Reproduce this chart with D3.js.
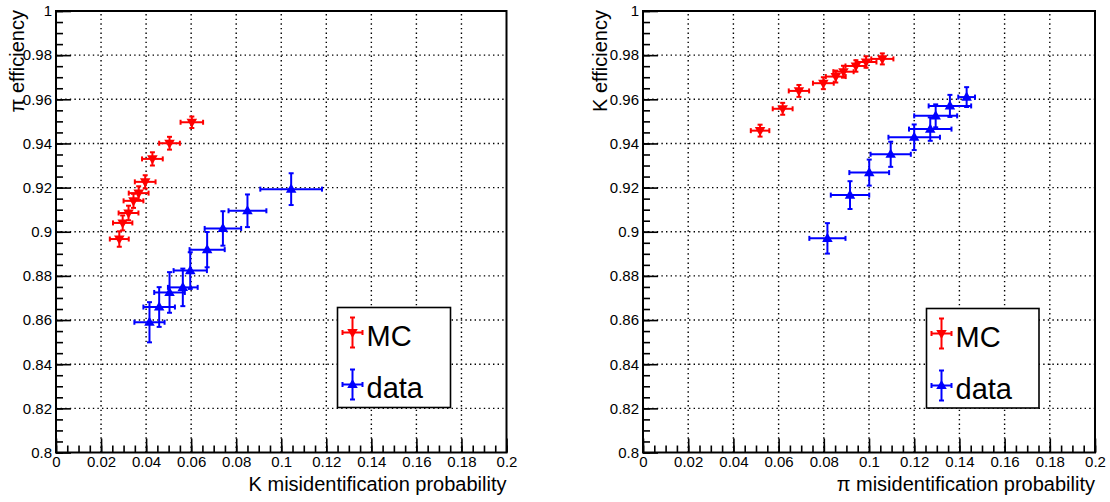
<!DOCTYPE html>
<html>
<head>
<meta charset="utf-8">
<script src="https://cdn.jsdelivr.net/npm/d3@7"></script>
<style>
  html, body { margin: 0; padding: 0; background: #fff; }
  svg { display: block; font-family: "Liberation Sans", Arial, Helvetica, sans-serif; }
</style>
</head>
<body>
<svg id="chart" width="1110" height="502"></svg>
<script>
// ---------- Data ----------
// Left panel: pi efficiency vs K misidentification probability
const leftMcX   = [0.0603, 0.0504, 0.0428, 0.0396, 0.0367, 0.0344, 0.0322, 0.0296, 0.0281];
const leftMcY   = [0.9496, 0.9401, 0.9330, 0.9226, 0.9175, 0.9140, 0.9085, 0.9040, 0.8967];
const leftMcEx  = [0.0050, 0.0046, 0.0046, 0.0046, 0.0044, 0.0044, 0.0044, 0.0043, 0.0042];
const leftMcEy  = [0.0026, 0.0029, 0.0030, 0.0030, 0.0031, 0.0032, 0.0033, 0.0034, 0.0035];

const leftDataX  = [0.0415, 0.0458, 0.0504, 0.0563, 0.0596, 0.0671, 0.0741, 0.0850, 0.1044];
const leftDataY  = [0.8590, 0.8659, 0.8725, 0.8748, 0.8824, 0.8919, 0.9015, 0.9095, 0.9193];
const leftDataEx = [0.0067, 0.0070, 0.0068, 0.0066, 0.0074, 0.0078, 0.0081, 0.0084, 0.0137];
const leftDataEy = [0.0091, 0.0090, 0.0092, 0.0085, 0.0083, 0.0080, 0.0078, 0.0074, 0.0072];

// Right panel: K efficiency vs pi misidentification probability
const rightMcX   = [0.0518, 0.0618, 0.0690, 0.0798, 0.0853, 0.0887, 0.0942, 0.0987, 0.1059];
const rightMcY   = [0.9458, 0.9557, 0.9638, 0.9673, 0.9703, 0.9725, 0.9751, 0.9769, 0.9783];
const rightMcEx  = [0.0041, 0.0044, 0.0045, 0.0046, 0.0044, 0.0045, 0.0046, 0.0046, 0.0049];
const rightMcEy  = [0.0027, 0.0027, 0.0027, 0.0027, 0.0027, 0.0027, 0.0026, 0.0026, 0.0025];

const rightDataX  = [0.0816, 0.0916, 0.1001, 0.1096, 0.1200, 0.1271, 0.1295, 0.1358, 0.1432];
const rightDataY  = [0.8970, 0.9166, 0.9268, 0.9351, 0.9428, 0.9465, 0.9525, 0.9570, 0.9610];
const rightDataEx = [0.0080, 0.0085, 0.0088, 0.0089, 0.0114, 0.0094, 0.0095, 0.0094, 0.0037];
const rightDataEy = [0.0069, 0.0063, 0.0059, 0.0057, 0.0058, 0.0053, 0.0052, 0.0050, 0.0045];

const xTicks = [0, 0.02, 0.04, 0.06, 0.08, 0.1, 0.12, 0.14, 0.16, 0.18, 0.2];
const yTicks = [0.8, 0.82, 0.84, 0.86, 0.88, 0.9, 0.92, 0.94, 0.96, 0.98, 1];
const xTickLabels = ["0", "0.02", "0.04", "0.06", "0.08", "0.1", "0.12", "0.14", "0.16", "0.18", "0.2"];
const yTickLabels = ["0.8", "0.82", "0.84", "0.86", "0.88", "0.9", "0.92", "0.94", "0.96", "0.98", "1"];
const legendLabels = ["MC", "data"];

const MC_COLOR = "#ff0000";
const DATA_COLOR = "#0000ff";

const svg = d3.select("#chart");

function panel(cfg) {
  const x = d3.scaleLinear().domain([0, 0.2]).range([cfg.x0, cfg.x1]);
  const y = d3.scaleLinear().domain([0.8, 1]).range([cfg.y1, cfg.y0]);
  const g = svg.append("g");

  // grid (dotted)
  const grid = g.append("g").attr("stroke", "#000").attr("stroke-width", 1.4)
    .attr("stroke-dasharray", "1.4,3.2").attr("fill", "none");
  xTicks.slice(1, -1).forEach(t => {
    grid.append("line").attr("x1", x(t)).attr("x2", x(t)).attr("y1", y(0.8)).attr("y2", y(1));
  });
  yTicks.slice(1, -1).forEach(t => {
    grid.append("line").attr("x1", x(0)).attr("x2", x(0.2)).attr("y1", y(t)).attr("y2", y(t));
  });

  // axes using d3 axis generators with inner ticks
  const xMinor = d3.range(0, 0.2001, 0.005);
  const yMinor = d3.range(0.8, 1.0001, 0.005);

  const xAxisMinor = d3.axisBottom(x).tickValues(xMinor).tickSize(-7).tickFormat("");
  const xAxisMajor = d3.axisBottom(x).tickValues(xTicks).tickSize(-14).tickPadding(4)
    .tickFormat((d, i) => xTickLabels[i]);
  const yAxisMinor = d3.axisLeft(y).tickValues(yMinor).tickSize(-7).tickFormat("");
  const yAxisMajor = d3.axisLeft(y).tickValues(yTicks).tickSize(-15).tickPadding(4)
    .tickFormat((d, i) => yTickLabels[i]);

  const styleAxis = sel => {
    sel.select(".domain").remove();
    sel.selectAll("line").attr("stroke", "#000").attr("stroke-width", 1.6);
    sel.selectAll("text").attr("fill", "#000").attr("font-size", 15)
      .attr("font-family", "'Liberation Sans', Arial, sans-serif");
  };
  g.append("g").attr("transform", `translate(0,${cfg.y1})`).call(xAxisMinor).call(styleAxis);
  g.append("g").attr("transform", `translate(0,${cfg.y1})`).call(xAxisMajor).call(styleAxis);
  g.append("g").attr("transform", `translate(${cfg.x0},0)`).call(yAxisMinor).call(styleAxis);
  g.append("g").attr("transform", `translate(${cfg.x0},0)`).call(yAxisMajor).call(styleAxis);

  // frame
  g.append("rect").attr("x", cfg.x0).attr("y", cfg.y0)
    .attr("width", cfg.x1 - cfg.x0).attr("height", cfg.y1 - cfg.y0)
    .attr("fill", "none").attr("stroke", "#000").attr("stroke-width", 2);

  // axis titles
  g.append("text").attr("x", cfg.x1).attr("y", 491).attr("text-anchor", "end")
    .attr("font-size", 20).attr("fill", "#000").text(cfg.xTitle);
  g.append("text").attr("transform", `translate(${cfg.yTitleX},${cfg.y0 - 1}) rotate(-90)`)
    .attr("text-anchor", "end").attr("font-size", 20).attr("fill", "#000").text(cfg.yTitle);

  // series
  const drawSeries = (xs, ys, exs, eys, color, down) => {
    const sg = g.append("g").attr("stroke", color).attr("fill", color);
    xs.forEach((xv, i) => {
      const cx = x(xv), cy = y(ys[i]);
      const xl = x(xv - exs[i]), xr = x(xv + exs[i]);
      const yt = y(ys[i] + eys[i]), yb = y(ys[i] - eys[i]);
      const p = sg.append("g").attr("stroke-width", 2);
      p.append("line").attr("x1", xl).attr("x2", xr).attr("y1", cy).attr("y2", cy);
      p.append("line").attr("x1", cx).attr("x2", cx).attr("y1", yt).attr("y2", yb);
      p.append("line").attr("x1", xl).attr("x2", xl).attr("y1", cy - 2.5).attr("y2", cy + 2.5);
      p.append("line").attr("x1", xr).attr("x2", xr).attr("y1", cy - 2.5).attr("y2", cy + 2.5);
      p.append("line").attr("x1", cx - 2.5).attr("x2", cx + 2.5).attr("y1", yt).attr("y2", yt);
      p.append("line").attr("x1", cx - 2.5).attr("x2", cx + 2.5).attr("y1", yb).attr("y2", yb);
      p.append("path")
        .attr("d", d3.symbol().type(d3.symbolTriangle).size(48)())
        .attr("stroke", "none")
        .attr("transform", `translate(${cx},${cy + (down ? -0.5 : 0.5)}) rotate(${down ? 180 : 0})`);
    });
  };
  drawSeries(cfg.mc[0], cfg.mc[1], cfg.mc[2], cfg.mc[3], MC_COLOR, true);
  drawSeries(cfg.data[0], cfg.data[1], cfg.data[2], cfg.data[3], DATA_COLOR, false);

  // legend
  const L = cfg.legend;
  g.append("rect").attr("x", L.x).attr("y", L.y).attr("width", L.w).attr("height", L.h)
    .attr("fill", "#fff").attr("stroke", "#000").attr("stroke-width", 1.6);
  const rows = [{ c: MC_COLOR, down: true, dy: 25 }, { c: DATA_COLOR, down: false, dy: 77 }];
  rows.forEach((r, i) => {
    const mx = L.x + 15, my = L.y + r.dy;
    const lg = g.append("g").attr("stroke", r.c).attr("fill", r.c).attr("stroke-width", 2);
    lg.append("line").attr("x1", mx - 10).attr("x2", mx + 10).attr("y1", my).attr("y2", my);
    lg.append("line").attr("x1", mx).attr("x2", mx).attr("y1", my - 15).attr("y2", my + 15);
    lg.append("line").attr("x1", mx - 10).attr("x2", mx - 10).attr("y1", my - 2.5).attr("y2", my + 2.5);
    lg.append("line").attr("x1", mx + 10).attr("x2", mx + 10).attr("y1", my - 2.5).attr("y2", my + 2.5);
    lg.append("line").attr("x1", mx - 2.5).attr("x2", mx + 2.5).attr("y1", my - 15).attr("y2", my - 15);
    lg.append("line").attr("x1", mx - 2.5).attr("x2", mx + 2.5).attr("y1", my + 15).attr("y2", my + 15);
    lg.append("path").attr("d", d3.symbol().type(d3.symbolTriangle).size(48)())
      .attr("stroke", "none")
      .attr("transform", `translate(${mx},${my + (r.down ? -0.5 : 0.5)}) rotate(${r.down ? 180 : 0})`);
    g.append("text").attr("x", L.x + 29).attr("y", my + 13).attr("font-size", 29)
      .attr("fill", "#000").text(legendLabels[i]);
  });
}

panel({
  x0: 56, x1: 506.5, y0: 11, y1: 452.5,
  xTitle: "K misidentification probability",
  yTitle: "π efficiency", yTitleX: 24,
  mc: [leftMcX, leftMcY, leftMcEx, leftMcEy],
  data: [leftDataX, leftDataY, leftDataEx, leftDataEy],
  legend: { x: 337.5, y: 307.5, w: 113, h: 100 }
});
panel({
  x0: 643, x1: 1095, y0: 11, y1: 452.5,
  xTitle: "π misidentification probability",
  yTitle: "K efficiency", yTitleX: 607,
  mc: [rightMcX, rightMcY, rightMcEx, rightMcEy],
  data: [rightDataX, rightDataY, rightDataEx, rightDataEy],
  legend: { x: 926.5, y: 308.5, w: 112.5, h: 99.5 }
});
</script>
</body>
</html>
